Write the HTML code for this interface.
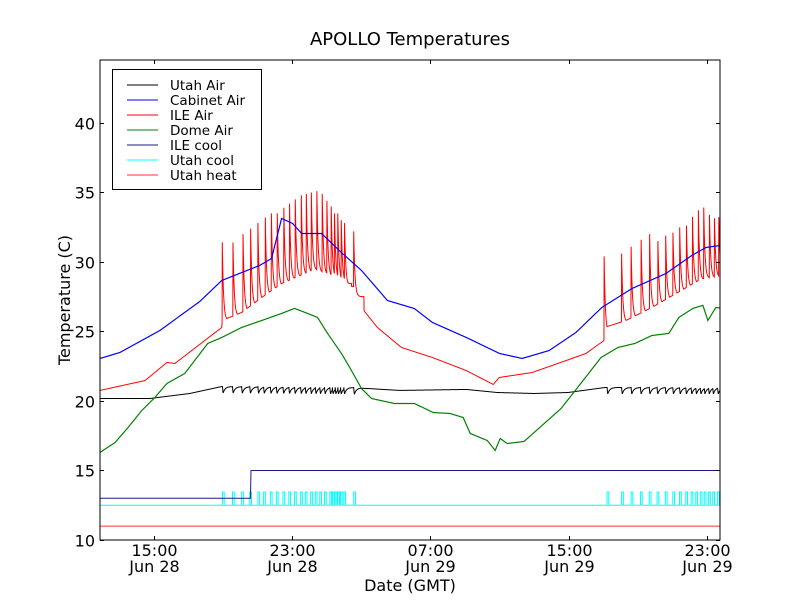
<!DOCTYPE html>
<html><head><meta charset="utf-8"><style>
body{margin:0;background:#fff;width:800px;height:600px;overflow:hidden}
svg text{font-family:"DejaVu Sans","Liberation Sans",sans-serif}
</style></head><body>
<svg id="chart" width="800" height="600" xmlns="http://www.w3.org/2000/svg">
<rect width="800" height="600" fill="#fff"/>
<text x="410" y="45" font-size="18" text-anchor="middle">APOLLO Temperatures</text>
<text x="410" y="591" font-size="16" text-anchor="middle">Date (GMT)</text>
<text transform="translate(70,300) rotate(-90)" font-size="16" text-anchor="middle">Temperature (C)</text>
<defs><clipPath id="clip"><rect x="100" y="60" width="620" height="480"/></clipPath></defs>
<g id="series" clip-path="url(#clip)"></g>
<g id="axes"></g>
<g>
<rect x="112.5" y="69.5" width="149" height="120" fill="#fff" stroke="#000" stroke-width="1"/>
<g id="legend-items"></g>
</g>
</svg>
<script>
// ---- data (time in hours since Jun 28 00:00 GMT, temperature in C) ----
const xTickHours=[15,23,31,39,47];
const xTickTimes=["15:00","23:00","07:00","15:00","23:00"];
const xTickDates=["Jun 28","Jun 28","Jun 29","Jun 29","Jun 29"];
const yTicks=[10,15,20,25,30,35,40];
const cabinetT=[11.9,13.05,15.36,17.67,18.94,21.13,21.82,22.4,23.04,23.56,24.71,25.86,27.02,28.52,30.08,31.12,33.08,35.0,36.31,37.87,39.42,40.92,42.66,44.62,46.12,46.93,47.75];
const cabinetV=[23.06,23.49,25.07,27.16,28.67,29.75,30.25,33.13,32.77,32.05,32.05,30.68,29.39,27.23,26.65,25.65,24.57,23.42,23.06,23.63,24.93,26.73,28.09,29.17,30.47,31.04,31.19];
const ileAirT=[11.9,14.5,15.77,16.23,18.94,18.97,20.09,21.25,22.4,24.13,25.06,25.86,26.44,27.02,27.94,29.33,31.12,33.08,34.64,34.98,36.89,38.85,40.0,41.04,41.06,42.31,43.81,45.2,46.7,47.75];
const ileAirV=[20.76,21.47,22.77,22.7,25.29,25.8,26.37,27.45,28.45,29.39,28.88,28.45,27.73,26.72,25.29,23.85,23.13,22.19,21.19,21.69,22.05,22.91,23.42,24.35,25.29,25.79,26.73,27.73,28.81,28.88];
const ileSpikeT=[18.97,19.59,20.17,20.61,21.03,21.46,21.81,22.15,22.53,22.86,23.19,23.54,23.83,24.12,24.44,24.75,25.02,25.27,25.46,25.65,25.85,26.04,26.57,41.05,42.06,42.61,43.19,43.68,44.15,44.6,45.02,45.41,45.8,46.15,46.49,46.8,47.13,47.42,47.67];
const ileSpikePeak=[31.42,31.4,32.0,32.4,32.8,33.2,33.5,33.5,33.9,34.2,34.5,34.8,34.9,35.0,35.1,34.9,34.4,34.0,33.5,33.5,33.0,32.8,32.2,30.4,30.6,31.1,31.6,32.0,32.2,32.6,32.8,33.2,33.3,34.0,34.5,34.7,34.1,33.8,33.9];
const domeT=[11.9,12.77,13.52,14.32,15.07,15.77,16.8,18.13,18.94,20.09,21.25,22.4,23.15,23.9,24.48,25.06,25.86,26.44,27.02,27.6,28.92,30.08,31.17,32.15,32.9,33.31,34.29,34.75,35.04,35.44,36.42,38.56,39.83,40.87,41.85,42.83,43.81,44.79,45.37,46.18,46.76,47.05,47.51,47.9];
const domeV=[16.3,17.01,18.09,19.32,20.25,21.26,21.98,24.14,24.57,25.29,25.79,26.3,26.66,26.3,26.01,24.86,23.42,22.19,20.9,20.18,19.82,19.82,19.17,19.1,18.81,17.66,17.16,16.44,17.3,16.94,17.09,19.46,21.47,23.13,23.85,24.14,24.71,24.86,26.01,26.66,26.88,25.79,26.73,26.66];
const utahAirT=[11.9,14.79,17.09,18.94,26.44,29.21,33.08,34.87,37.0,38.96,41.1,47.75];
const utahAirV=[20.18,20.18,20.54,21.04,20.97,20.76,20.83,20.61,20.54,20.61,20.97,20.97];
const utahCoolPulseT=[18.98,19.56,20.09,20.56,21.03,21.36,21.75,22.1,22.48,22.82,23.15,23.5,23.77,24.08,24.35,24.61,24.88,25.19,25.34,25.5,25.65,25.81,26.0,26.57,41.22,42.06,42.61,43.15,43.66,44.11,44.59,45.02,45.41,45.77,46.08,46.35,46.61,46.84,47.09,47.33,47.61];
const utahCoolLevels=[12.5,13.45];
const ileCoolT=[11.9,20.6,20.63,47.75];
const ileCoolV=[13,13,15,15];
const utahHeatT=[11.9,47.75];
const utahHeatV=[11,11];
const legendLabels=["Utah Air","Cabinet Air","ILE Air","Dome Air","ILE cool","Utah cool","Utah heat"];
const legendColors=["#000000","#0000ff","#ff0000","#008000","#1a1a8c","#00ffff","#ff3030"];

// ---- axes ----
const X0=100,X1=720,Y0=540,Y1=60,T0=11.9,T1=47.75,V0=10,V1=44.53;
const sx=t=>X0+(t-T0)/(T1-T0)*(X1-X0);
const sy=v=>Y0-(v-V0)/(V1-V0)*(Y0-Y1);
const NS="http://www.w3.org/2000/svg";
function mk(tag,attrs,parent){const e=document.createElementNS(NS,tag);for(const k in attrs)e.setAttribute(k,attrs[k]);parent.appendChild(e);return e;}
function interp(ts,vs,t){if(t<=ts[0])return vs[0];for(let i=1;i<ts.length;i++){if(t<=ts[i]){const f=(t-ts[i-1])/(ts[i]-ts[i-1]);return vs[i-1]+f*(vs[i]-vs[i-1]);}}return vs[vs.length-1];}
const series=document.getElementById('series');
function drawLine(pts,color,name,w){
  const d=pts.map((p,i)=>(i?'L':'M')+sx(p[0]).toFixed(2)+','+sy(p[1]).toFixed(2)).join('');
  const p=mk('path',{d:d,fill:'none',stroke:color,'stroke-width':w||1},series);
  
  
}
const dt=0.01;
function samples(){const a=[];for(let t=T0;t<=T1+1e-9;t+=dt)a.push(t);return a;}
drawLine(utahHeatT.map((t,i)=>[t,utahHeatV[i]]),legendColors[6],'utah-heat-line');
(function(){const pts=[[T0,utahCoolLevels[0]]];utahCoolPulseT.forEach(t=>{pts.push([t,utahCoolLevels[0]],[t,utahCoolLevels[1]],[t+0.1,utahCoolLevels[1]],[t+0.1,utahCoolLevels[0]]);});pts.push([T1,utahCoolLevels[0]]);drawLine(pts,legendColors[5],'utah-cool-line');})();
drawLine(ileCoolT.map((t,i)=>[t,ileCoolV[i]]),legendColors[4],'ile-cool-line');
drawLine(samples().map(t=>{let v=interp(utahAirT,utahAirV,t);let last=null;for(const p of utahCoolPulseT)if(p<=t)last=p;if(last!==null&&t-last<1){const x=(t-last);v-=0.65*Math.min(1,x/0.04)*Math.exp(-x/0.12);}return [t,v];}),legendColors[0],'utah-air-line');
drawLine(samples().map(t=>[t,interp(domeT,domeV,t)]),legendColors[3],'dome-air-line',1.2);
(function(){const pts=[];samples().forEach(t=>{let v=interp(ileAirT,ileAirV,t);for(let i=0;i<ileSpikeT.length;i++){const x=t-ileSpikeT[i];if(x>=0&&x<0.6){const b=interp(ileAirT,ileAirV,ileSpikeT[i]);v=Math.max(v,b+(ileSpikePeak[i]-b)*Math.exp(-x/0.07));}}pts.push([t,v]);});drawLine(pts,legendColors[2],'ile-air-line');})();
drawLine(samples().map(t=>[t,interp(cabinetT,cabinetV,t)]),legendColors[1],'cabinet-air-line',1.2);

const axes=document.getElementById('axes');
const frame=mk('rect',{x:X0,y:Y1,width:X1-X0,height:Y0-Y1,fill:'none',stroke:'#000','stroke-width':1},axes);


xTickHours.forEach((h,i)=>{
  const x=Math.round(sx(h))+0.5;
  mk('line',{x1:x,x2:x,y1:Y0,y2:Y0-4,stroke:'#000'},axes);
  mk('line',{x1:x,x2:x,y1:Y1,y2:Y1+4,stroke:'#000'},axes);
  const t1=mk('text',{x:x,y:556,'font-size':16,'text-anchor':'middle'},axes);t1.textContent=xTickTimes[i];
  
  
  const t2=mk('text',{x:x,y:572,'font-size':16,'text-anchor':'middle'},axes);t2.textContent=xTickDates[i];
  
  
});
yTicks.forEach(v=>{
  const y=Math.round(sy(v))+0.5;
  mk('line',{x1:X0,x2:X0+4,y1:y,y2:y,stroke:'#000'},axes);
  mk('line',{x1:X1,x2:X1-4,y1:y,y2:y,stroke:'#000'},axes);
  const t=mk('text',{x:95,y:y+6,'font-size':16,'text-anchor':'end'},axes);t.textContent=v;
  
  
});
const lg=document.getElementById('legend-items');
legendLabels.forEach((l,i)=>{
  const y=85+i*15;
  const g=mk('g',{},lg);
  
  
  mk('line',{x1:127,x2:158,y1:y,y2:y,stroke:legendColors[i],'stroke-width':1},g);
  const t=mk('text',{x:170,y:y+5,'font-size':13.5},g);t.textContent=l;
});
</script>
</body></html>
